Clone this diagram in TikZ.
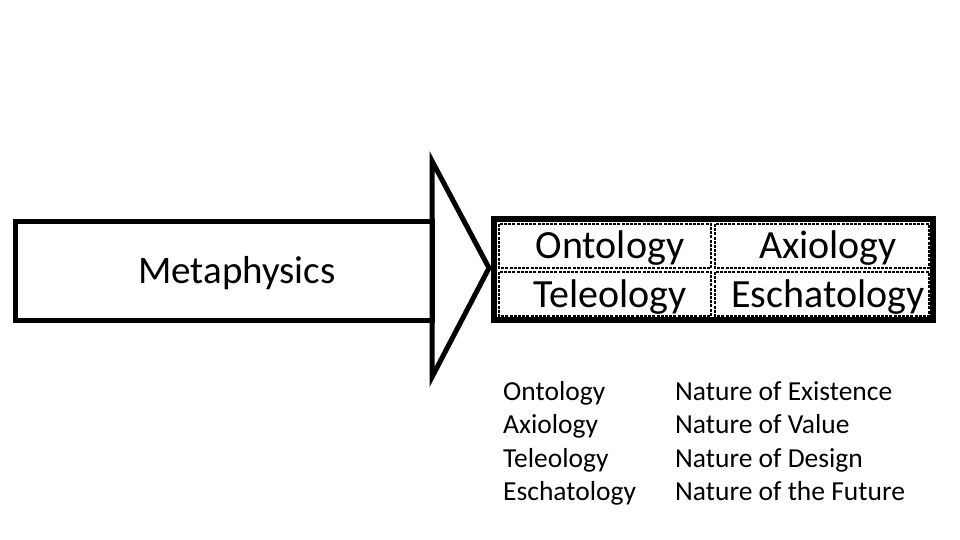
\documentclass[tikz,border=0pt]{standalone}
\usepackage{fontspec}
\setmainfont{Carlito}
\usepackage{tikz}

\tikzset{
  bigtext/.style={font=\fontsize{39}{44}\selectfont, inner sep=0pt, anchor=base},
  celltext/.style={font=\fontsize{40}{44}\selectfont, inner sep=0pt, anchor=base},
  listtext/.style={font=\fontsize{27.5}{32}\selectfont, inner sep=0pt, anchor=base west},
  cellbox/.style={draw=black, line width=1.4pt, dash pattern=on 3pt off 1.2pt},
}

\begin{document}
\begin{tikzpicture}[x=1pt,y=-1pt]
\useasboundingbox (0,0) rectangle (960,540);
% arrow
\draw[black,line width=5pt] (15,221) rectangle (432,320);
\draw[black,line width=5pt,line join=miter] (432,161) -- (489,268) -- (432,377) -- cycle;
\node[bigtext] (meta) at (237,283) {Metaphysics};

% table
\draw[black,line width=6pt] (494,219) rectangle (933,320);
\draw[cellbox] (499,224) rectangle (711,268);
\draw[cellbox] (715,224) rectangle (929,268);
\draw[cellbox] (499,272) rectangle (711,316);
\draw[cellbox] (715,272) rectangle (929,316);
\node[celltext] (onto) at (610,258) {Ontology};
\node[celltext] (axio) at (828,258) {Axiology};
\node[celltext] (tele) at (610,307) {Teleology};
\node[celltext] (escha) at (828,307) {Eschatology};

% list
\node[listtext] (l1) at (503,400) {Ontology};
\node[listtext] (l2) at (503,433.5) {Axiology};
\node[listtext] (l3) at (503,467) {Teleology};
\node[listtext] (l4) at (503,500.5) {Eschatology};
\node[listtext] (r1) at (675,400) {Nature of Existence};
\node[listtext] (r2) at (675,433.5) {Nature of Value};
\node[listtext] (r3) at (675,467) {Nature of Design};
\node[listtext] (r4) at (675,500.5) {Nature of the Future};

\end{tikzpicture}
\end{document}
